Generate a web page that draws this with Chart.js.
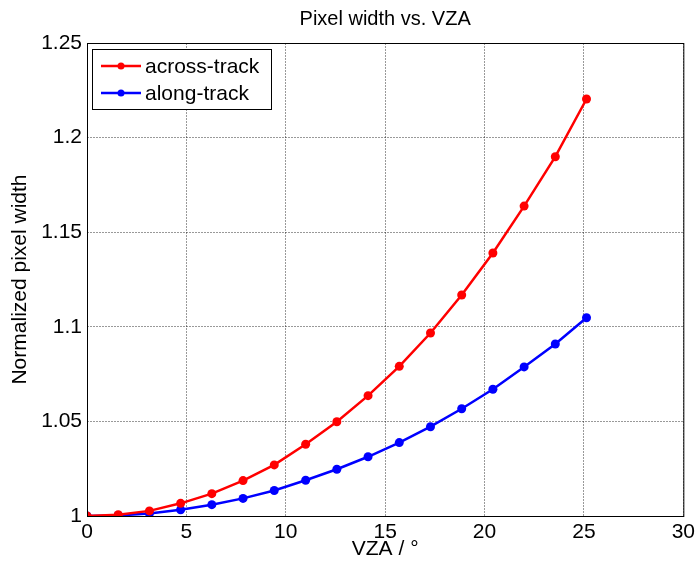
<!DOCTYPE html>
<html>
<head>
<meta charset="utf-8">
<script src="https://cdn.jsdelivr.net/npm/chart.js@4"></script>
<style>
  html, body { margin: 0; padding: 0; background: #fff; }
  canvas { display: block; }
</style>
</head>
<body>
<canvas id="myChart" width="699" height="566"></canvas>
<script>
// angles (VZA, degrees)
const vza = [0, 1.57, 3.14, 4.71, 6.28, 7.85, 9.42, 11.0, 12.57, 14.14, 15.71, 17.28, 18.85, 20.42, 21.99, 23.56, 25.13];
const acrossTrack = [1.0, 1.0007, 1.0027, 1.0067, 1.0118, 1.0187, 1.027, 1.0379, 1.0498, 1.0636, 1.0791, 1.0967, 1.1168, 1.139, 1.1638, 1.1899, 1.2204];
const alongTrack = [1.0, 1.0003, 1.0013, 1.0033, 1.006, 1.0093, 1.0135, 1.0189, 1.0247, 1.0313, 1.0388, 1.0472, 1.0567, 1.067, 1.0788, 1.0909, 1.1048];
const seriesNames = ['across-track', 'along-track'];
const seriesColors = ['#ff0000', '#0000ff'];

const FONT = 'Arial, "Liberation Sans", sans-serif';

function toPoints(ys) {
    return vza.map((x, i) => ({ x, y: ys[i] }));
}

// box round the plot + small legend in the upper left, like matlab
const framePlugin = {
    id: 'frame',
    afterDraw(chart) {
        const { ctx, chartArea: a } = chart;
        ctx.save();
        ctx.strokeStyle = '#000';
        ctx.lineWidth = 1;
        ctx.strokeRect(a.left + 0.5, a.top + 0.5, a.right - a.left, a.bottom - a.top);

        // legend
        const x0 = a.left + 5, y0 = a.top + 6;
        const w = 179, h = 60;
        ctx.fillStyle = '#fff';
        ctx.fillRect(x0, y0, w, h);
        ctx.strokeRect(x0 + 0.5, y0 + 0.5, w, h);
        ctx.font = '21px ' + FONT;
        ctx.textBaseline = 'middle';
        chart.data.datasets.forEach((ds, i) => {
            const yy = y0 + 17 + i * 27;
            ctx.strokeStyle = ds.borderColor;
            ctx.lineWidth = 2.5;
            ctx.beginPath();
            ctx.moveTo(x0 + 9, yy);
            ctx.lineTo(x0 + 49, yy);
            ctx.stroke();
            ctx.fillStyle = ds.borderColor;
            ctx.beginPath();
            ctx.arc(x0 + 29, yy, 3.5, 0, Math.PI * 2);
            ctx.fill();
            ctx.fillStyle = '#000';
            ctx.fillText(ds.label, x0 + 53, yy + 1);
        });
        ctx.restore();
    }
};

const ctx = document.getElementById('myChart').getContext('2d');
new Chart(ctx, {
    type: 'line',
    data: {
        datasets: [0, 1].map(i => ({
            label: seriesNames[i],
            data: toPoints(i === 0 ? acrossTrack : alongTrack),
            borderColor: seriesColors[i],
            backgroundColor: seriesColors[i],
            borderWidth: 2.5,
            pointRadius: 4.5,
            pointBorderWidth: 0,
            pointHoverRadius: 4.5,
            tension: 0
        }))
    },
    options: {
        responsive: false,
        animation: false,
        layout: { padding: { left: 0, right: 12, top: 0, bottom: 0 } },
        plugins: {
            legend: { display: false },
            tooltip: { enabled: false },
            title: {
                display: true,
                text: 'Pixel width vs. VZA',
                fullSize: false,
                color: '#000',
                font: { family: FONT, size: 20, weight: 'normal' },
                padding: { top: 7, bottom: 12 }
            }
        },
        scales: {
            x: {
                type: 'linear',
                min: 0,
                max: 30,
                ticks: {
                    stepSize: 5,
                    color: '#000',
                    padding: 4,
                    font: { family: FONT, size: 21 }
                },
                grid: {
                    color: 'rgba(0,0,0,0.4)',
                    drawTicks: false
                },
                border: { display: false, dash: [2, 1] },
                title: {
                    display: true,
                    text: 'VZA / °',
                    color: '#000',
                    font: { family: FONT, size: 21 },
                    padding: { top: 0, bottom: 4 }
                },
                afterFit(scale) { scale.height = 50; }
            },
            y: {
                min: 1,
                max: 1.25,
                ticks: {
                    stepSize: 0.05,
                    color: '#000',
                    padding: 5,
                    font: { family: FONT, size: 21 },
                    callback: v => String(Number(v.toFixed(2)))
                },
                grid: {
                    color: 'rgba(0,0,0,0.4)',
                    drawTicks: false
                },
                border: { display: false, dash: [2, 1] },
                title: {
                    display: true,
                    text: 'Normalized pixel width',
                    color: '#000',
                    font: { family: FONT, size: 21 },
                    padding: { top: 8, bottom: 0 }
                },
                afterFit(scale) { scale.width = 87; }
            }
        }
    },
    plugins: [framePlugin]
});
</script>
</body>
</html>
